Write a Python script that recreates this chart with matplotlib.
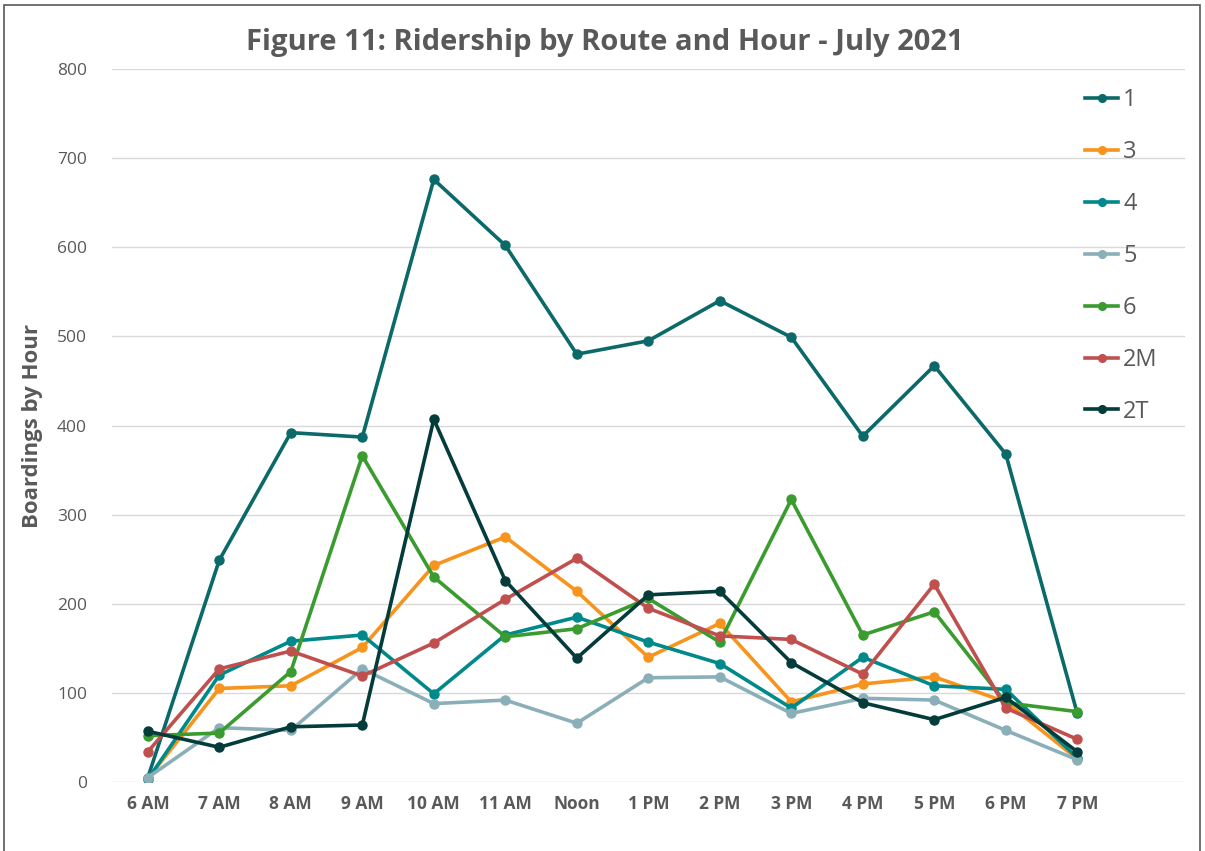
import matplotlib.pyplot as plt
from matplotlib.patches import Rectangle

# hours on the x axis
hours = ["6 AM", "7 AM", "8 AM", "9 AM", "10 AM", "11 AM", "Noon",
         "1 PM", "2 PM", "3 PM", "4 PM", "5 PM", "6 PM", "7 PM"]

# boardings per route
route_1 = [5, 249, 392, 387, 676, 602, 480, 495, 540, 499, 388, 467, 368, 77]
route_3 = [4, 105, 108, 151, 243, 275, 214, 140, 178, 90, 110, 118, 90, 26]
route_4 = [3, 120, 158, 165, 99, 165, 185, 157, 133, 83, 140, 108, 104, 27]
route_5 = [5, 61, 58, 127, 88, 92, 66, 117, 118, 77, 94, 92, 58, 25]
route_6 = [52, 55, 124, 366, 230, 163, 172, 206, 157, 317, 165, 191, 89, 79]
route_2m = [34, 127, 147, 119, 156, 205, 251, 195, 164, 160, 121, 222, 83, 48]
route_2t = [57, 39, 62, 64, 407, 226, 139, 210, 214, 134, 89, 70, 95, 34]

routes = ["1", "3", "4", "5", "6", "2M", "2T"]
series = [route_1, route_3, route_4, route_5, route_6, route_2m, route_2t]
colors = ["#0B6A69", "#F7941D", "#00898A", "#8BAFB8", "#3A9B2F", "#C0504D", "#033C3A"]

grey = "#595959"


def main():
    fig = plt.figure(figsize=(12.05, 8.51), dpi=100)
    ax = fig.add_axes([0.093, 0.081, 0.890, 0.838])

    x = list(range(len(hours)))
    for name, vals, col in zip(routes, series, colors):
        ax.plot(x, vals, color=col, lw=2.6, marker="o", markersize=6.5, label=name)

    ax.set_xlim(-0.5, len(hours) + 0.5)
    ax.set_ylim(0, 800)
    ax.set_yticks(range(0, 801, 100))
    ax.set_xticks(x)
    ax.set_xticklabels(hours, fontsize=12.5, fontweight="bold", color=grey,
                       fontfamily="Open Sans")
    ax.tick_params(axis="y", labelsize=12.5, labelcolor=grey, length=0, pad=18)
    ax.tick_params(axis="x", length=0, pad=9)
    for lab in ax.get_yticklabels():
        lab.set_fontfamily("Open Sans")

    ax.grid(axis="y", color="#D9D9D9", lw=1)
    ax.set_axisbelow(True)
    for s in ax.spines.values():
        s.set_visible(False)

    ax.set_ylabel("Boardings by Hour", fontsize=16, fontweight="bold",
                  color=grey, fontfamily="Open Sans", labelpad=10)
    fig.text(0.502, 0.950, "Figure 11: Ridership by Route and Hour - July 2021",
             ha="center", va="center", fontsize=21, fontweight="bold",
             color=grey, fontfamily="Open Sans")

    leg = ax.legend(loc="upper left", bbox_to_anchor=(0.883, 0.921),
                    bbox_transform=fig.transFigure, frameon=False,
                    fontsize=17, handlelength=1.4, handletextpad=0.2,
                    labelspacing=1.18, markerscale=0.85)
    for t in leg.get_texts():
        t.set_color(grey)
        t.set_fontfamily("Open Sans")

    # outer frame of the chart
    fig.patches.append(Rectangle((0.003, -0.01), 0.993, 1.004, transform=fig.transFigure,
                                 fill=False, edgecolor="#595959", lw=1.2))

    fig.savefig("out.png", dpi=100)


if __name__ == "__main__":
    main()
